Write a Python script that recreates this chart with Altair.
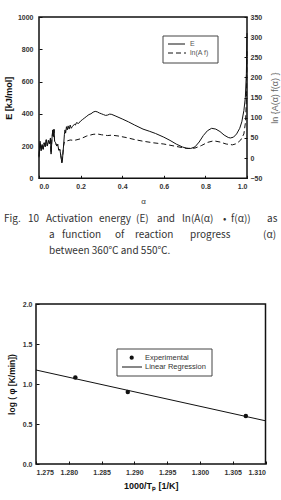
import altair as alt
import pandas as pd

# ---------------- data ----------------
alpha_E = [0.000, 0.005, 0.010, 0.015, 0.020, 0.025, 0.030, 0.035, 0.040, 0.045,
           0.050, 0.055, 0.058, 0.062, 0.066, 0.070, 0.072, 0.075, 0.080, 0.085,
           0.090, 0.095, 0.100, 0.105, 0.110, 0.113, 0.118, 0.122, 0.125, 0.128,
           0.132, 0.136, 0.140, 0.145, 0.150, 0.155, 0.160, 0.170, 0.175, 0.180,
           0.190, 0.200, 0.210, 0.220, 0.230, 0.240, 0.250, 0.260, 0.270, 0.280,
           0.290, 0.300, 0.310, 0.320, 0.330, 0.340, 0.350, 0.370, 0.400, 0.430,
           0.460, 0.500, 0.530, 0.560, 0.600, 0.630, 0.660, 0.690, 0.710, 0.730,
           0.750, 0.770, 0.790, 0.810, 0.830, 0.850, 0.870, 0.890, 0.910, 0.920,
           0.935, 0.950, 0.965, 0.975, 0.985, 0.992, 0.997, 1.000]
E_vals = [130, 230, 170, 210, 180, 220, 195, 240, 200, 235,
          215, 250, 150, 240, 300, 260, 305, 230, 220, 200,
          210, 175, 180, 140, 95, 120, 200, 270, 300, 280,
          320, 300, 325, 305, 330, 310, 320, 335, 330, 345,
          340, 355, 365, 375, 385, 395, 400, 410, 415, 412,
          405, 400, 395, 390, 392, 398, 396, 385, 368, 350,
          330, 305, 292, 278, 255, 235, 212, 194, 186, 185,
          195, 225, 265, 295, 310, 305, 290, 268, 253, 250,
          255, 275, 310, 350, 420, 500, 650, 900]

alpha_ln = [0.000, 0.005, 0.010, 0.015, 0.020, 0.025, 0.030, 0.035, 0.040, 0.045,
            0.050, 0.055, 0.058, 0.062, 0.066, 0.070, 0.072, 0.075, 0.080, 0.085,
            0.090, 0.095, 0.100, 0.105, 0.110, 0.113, 0.118, 0.122, 0.130, 0.150,
            0.170, 0.200, 0.230, 0.260, 0.280, 0.300, 0.330, 0.350, 0.380, 0.420,
            0.460, 0.500, 0.550, 0.600, 0.650, 0.700, 0.720, 0.750, 0.780, 0.810,
            0.840, 0.870, 0.900, 0.930, 0.950, 0.970, 0.985, 0.993, 0.998, 1.000]
ln_vals = [5, 40, 18, 34, 22, 38, 28, 45, 30, 44,
           36, 48, 12, 46, 68, 54, 70, 42, 38, 30,
           34, 20, 22, 6, -10, 0, 30, 40, 42, 45,
           44, 48, 55, 59, 60, 58, 56, 57, 55, 51,
           46, 42, 38, 35, 30, 25, 24, 25, 31, 39,
           43, 40, 35, 33, 36, 45, 60, 90, 160, 270]

top_x_ticks = [0.0, 0.2, 0.4, 0.6, 0.8, 1.0]
top_E_ticks = [0, 200, 400, 600, 800, 1000]
top_ln_ticks = [-50, 0, 50, 100, 150, 200, 250, 300, 350]

inv_Tp = [1.281, 1.289, 1.307]
log_phi = [1.08, 0.90, 0.60]
fit_x = [1.275, 1.310]
fit_y = [1.175, 0.54]
bot_x_ticks = [1.275, 1.280, 1.285, 1.290, 1.295, 1.300, 1.305, 1.310]
bot_y_ticks = [0.0, 0.5, 1.0, 1.5, 2.0]

top_legend = ["E", "ln(A f)"]
bot_legend = ["Experimental", "Linear Regression"]

caption_words = [
    ["Fig.", "10", "Activation", "energy", "(E)", "and", "ln(A(α)", "•", "f(α))", "as"],
    ["a", "function", "of", "reaction", "progress", "(α)"],
    ["between 360℃ and 550℃."],
]

# ---------------- layout (pixels) ----------------
W, H = 281, 500
TL, TR, TT, TB = 39, 247, 17, 178.3
BL, BR, BT, BB = 36, 265.5, 304, 464
cap_x = [[4, 28, 46, 99, 136, 157, 182, 223, 231, 267],
         [49, 62, 115, 135, 190, 263],
         [49]]
cap_y = [219, 235, 251]

FONT = "Liberation Sans"
CAP_FONT = "Noto Sans CJK KR"
INK = "#111111"
LAB = "#333333"

one = pd.DataFrame({"k": [0]})


def ax(**kw):
    base = dict(domain=False, grid=False, ticks=False, labelFont=FONT, labelFontSize=7,
                labelFontWeight="bold", labelColor=LAB, titleFont=FONT, titleColor=LAB)
    base.update(kw)
    return alt.Axis(**base)


def tick_axis(orient, offset, values, size=3):
    return alt.Axis(orient=orient, offset=offset, values=values, labels=False, domain=False,
                    grid=False, ticks=True, tickSize=size, tickColor=INK, tickWidth=1, title=None)


xs_top = alt.Scale(domain=[0, 1], range=[TL, TR], nice=False, zero=False)
ys_E = alt.Scale(domain=[0, 1000], range=[TB, TT], nice=False, zero=False)
ys_ln = alt.Scale(domain=[-50, 350], range=[TB, TT], nice=False, zero=False)
xs_bot = alt.Scale(domain=[1.275, 1.310], range=[BL, BR], nice=False, zero=False)
ys_bot = alt.Scale(domain=[0, 2], range=[BB, BT], nice=False, zero=False)

df_E = pd.DataFrame({"a": alpha_E, "E": E_vals})
df_ln = pd.DataFrame({"a": alpha_ln, "v": ln_vals})
df_exp = pd.DataFrame({"x": inv_Tp, "y": log_phi})
df_fit = pd.DataFrame({"x": fit_x, "y": fit_y})

# ---- top chart ----
E_line = alt.Chart(df_E).mark_line(color=INK, strokeWidth=1).encode(
    x=alt.X("a:Q", scale=xs_top,
            axis=ax(orient="bottom", offset=TB - H, values=top_x_ticks, format=".1f",
                    labelPadding=4, title="α", titleFontSize=8, titleFontWeight="normal",
                    titlePadding=8)),
    y=alt.Y("E:Q", scale=ys_E,
            axis=ax(orient="left", offset=-TL, values=top_E_ticks, format="d", labelPadding=6,
                    title="E [kJ/mol]", titleFontSize=9, titleFontWeight="bold",
                    titleColor=INK, titlePadding=4)),
    order="a:Q",
)
ln_line = alt.Chart(df_ln).mark_line(color=INK, strokeWidth=1, strokeDash=[5, 3]).encode(
    x=alt.X("a:Q", scale=xs_top, axis=tick_axis("top", -TB, top_x_ticks)),
    y=alt.Y("v:Q", scale=ys_ln,
            axis=ax(orient="right", offset=TR - W, values=top_ln_ticks, format="d",
                    labelPadding=3, title="ln {A(α) f(α) }", titleFontSize=9,
                    titleFontWeight="normal", titleColor="#666666", titleAngle=270,
                    titleX=27, titleY=(TT + TB) / 2, titleAlign="center",
                    titleBaseline="middle")),
    order="a:Q",
)
E_ticks = alt.Chart(df_E).mark_line(opacity=0).encode(
    x=alt.X("a:Q", scale=xs_top, axis=None),
    y=alt.Y("E:Q", scale=ys_E, axis=tick_axis("right", TL - W, top_E_ticks)),
)
ln_ticks = alt.Chart(df_ln).mark_line(opacity=0).encode(
    x=alt.X("a:Q", scale=xs_top, axis=None),
    y=alt.Y("v:Q", scale=ys_ln, axis=tick_axis("left", -TR, top_ln_ticks)),
)

frame_top = alt.Chart(one).mark_rect(filled=False, stroke=INK, strokeWidth=1.5).encode(
    x=alt.value(TL), x2=alt.value(TR), y=alt.value(TT), y2=alt.value(TB))

leg_top_box = alt.Chart(one).mark_rect(fill="white", stroke="#444444", strokeWidth=1).encode(
    x=alt.value(163), x2=alt.value(218), y=alt.value(36), y2=alt.value(63))
leg_top_solid = alt.Chart(one).mark_rule(color=INK, strokeWidth=1).encode(
    x=alt.value(168), x2=alt.value(185), y=alt.value(44))
leg_top_dash = alt.Chart(one).mark_rule(color=INK, strokeWidth=1, strokeDash=[5, 3]).encode(
    x=alt.value(168), x2=alt.value(186), y=alt.value(53))
leg_top_text = alt.Chart(pd.DataFrame({"t": top_legend, "yy": [44, 53]})).mark_text(
    align="left", baseline="middle", font=FONT, fontSize=7, color="#555555").encode(
    x=alt.value(190), y=alt.Y("yy:Q", scale=None, axis=None), text="t:N")

# ---- caption ----
cap_rows = []
for i, words in enumerate(caption_words):
    for w, xx in zip(words, cap_x[i]):
        cap_rows.append({"w": w, "xx": xx, "yy": cap_y[i]})
caption = alt.Chart(pd.DataFrame(cap_rows)).mark_text(
    align="left", baseline="middle", font=CAP_FONT, fontSize=10, color="#333333").encode(
    x=alt.X("xx:Q", scale=None, axis=None), y=alt.Y("yy:Q", scale=None, axis=None), text="w:N")

# ---- bottom chart ----
pts = alt.Chart(df_exp).mark_point(filled=True, color=INK, size=20, opacity=1).encode(
    x=alt.X("x:Q", scale=xs_bot,
            axis=ax(orient="bottom", offset=BB - H, values=bot_x_ticks, format=".3f",
                    labelPadding=4, title="1000/Tₚ  [1/K]", titleFontSize=9,
                    titleFontWeight="bold", titleColor=INK, titlePadding=6)),
    y=alt.Y("y:Q", scale=ys_bot,
            axis=ax(orient="left", offset=-BL, values=bot_y_ticks, format=".1f",
                    labelPadding=4, title="log ( φ  [K/min])", titleFontSize=8.5,
                    titleFontWeight="bold", titleColor=INK, titlePadding=6)),
)
fit = alt.Chart(df_fit).mark_line(color=INK, strokeWidth=1).encode(
    x=alt.X("x:Q", scale=xs_bot, axis=tick_axis("top", -BB, bot_x_ticks)),
    y=alt.Y("y:Q", scale=ys_bot, axis=tick_axis("right", BL - W, bot_y_ticks)),
)
frame_bot = alt.Chart(one).mark_rect(filled=False, stroke=INK, strokeWidth=1.5).encode(
    x=alt.value(BL), x2=alt.value(BR), y=alt.value(BT), y2=alt.value(BB))

leg_bot_box = alt.Chart(one).mark_rect(fill="white", stroke="#444444", strokeWidth=1).encode(
    x=alt.value(117), x2=alt.value(212), y=alt.value(349), y2=alt.value(376))
leg_bot_pt = alt.Chart(one).mark_point(filled=True, color=INK, size=18, opacity=1).encode(
    x=alt.value(131.7), y=alt.value(357.7))
leg_bot_line = alt.Chart(one).mark_rule(color=INK, strokeWidth=1).encode(
    x=alt.value(122), x2=alt.value(142), y=alt.value(367))
leg_bot_text = alt.Chart(pd.DataFrame({"t": bot_legend, "yy": [358, 367]})).mark_text(
    align="left", baseline="middle", font=FONT, fontSize=7.5, color="#333333").encode(
    x=alt.value(145), y=alt.Y("yy:Q", scale=None, axis=None), text="t:N")

chart = alt.layer(
    E_line, ln_line, E_ticks, ln_ticks, frame_top,
    leg_top_box, leg_top_solid, leg_top_dash, leg_top_text,
    caption,
    pts, fit, frame_bot,
    leg_bot_box, leg_bot_pt, leg_bot_line, leg_bot_text,
).resolve_scale(x="independent", y="independent").resolve_axis(
    x="independent", y="independent"
).properties(
    width=W, height=H, padding=0, autosize=alt.AutoSizeParams(type="none"),
    background="white",
).configure_view(stroke=None)

chart.save("out.html", embed_options={"renderer": "svg", "actions": False})
